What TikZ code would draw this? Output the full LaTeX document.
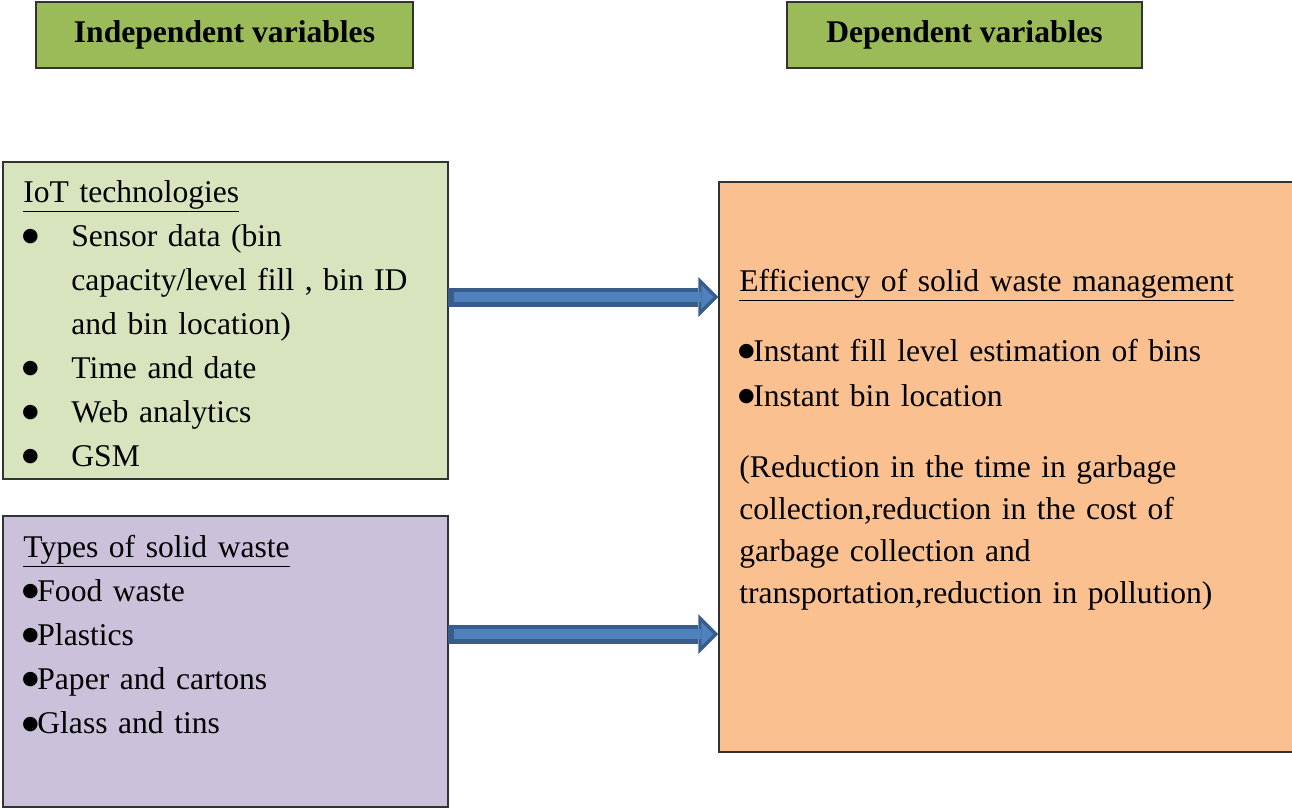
\documentclass[tikz,border=0pt]{standalone}
\usepackage{fontspec}
\setmainfont{Liberation Serif}
\newfontfamily\symfont{DejaVu Sans}
\usetikzlibrary{arrows.meta,positioning}

\definecolor{headgreen}{HTML}{9BBB59}
\definecolor{iotgreen}{HTML}{D7E4BD}
\definecolor{wastepurple}{HTML}{CCC1DA}
\definecolor{effOrange}{HTML}{FAC090}
\definecolor{arrowfill}{HTML}{4F81BD}
\definecolor{arrowline}{HTML}{385D8A}

\newcommand{\dotbullet}{\makebox[7pt][c]{\raisebox{2.4pt}{\symfont\fontsize{9.5}{10}\selectfont ●}}}
\newcommand{\iotbullet}{\makebox[24pt][l]{\dotbullet}}
\newcommand{\iotindent}{\hspace*{24pt}}

\begin{document}
\begin{tikzpicture}[x=0.5pt, y=-0.5pt,
  every node/.style={font=\fontsize{15.8}{22}\selectfont},
  headbox/.style={draw=black!80, line width=0.75pt, fill=headgreen, minimum height=33pt, font=\bfseries\fontsize{15.8}{19}\selectfont},
  panel/.style={draw=black!80, line width=0.75pt},
  txt/.style={anchor=base west, inner sep=0pt, align=left, text width=#1},
  txt/.default=210pt,
  fatarrow/.style={line width=9.5pt, draw=arrowline, -{Triangle[length=10pt,width=20pt,line width=0pt]},
    shorten <=-0.5pt,
    postaction={draw=arrowfill, line width=5pt, -{Triangle[length=6pt,width=12pt,line width=0pt]}, shorten >=2.5pt, shorten <=2.5pt}}]
  \useasboundingbox (0,0) rectangle (1292,809);

  % header boxes
  \node[headbox, minimum width=188.5pt] (indep) at (224.5,35) {Independent variables};
  \node[headbox, minimum width=177.5pt] (dep) at (964.5,35) {Dependent variables};

  % panels
  \node[panel, fill=iotgreen, minimum width=222.5pt, minimum height=158.5pt] (iot) at (225.5,320.5) {};
  \node[panel, fill=wastepurple, minimum width=222.5pt, minimum height=145.5pt] (waste) at (225.5,661.5) {};
  \node[panel, fill=effOrange, minimum width=300pt, minimum height=285pt] (eff) at (1019,467) {};

  % panel texts
  \node[txt] (iottxt) at (23,202) {\underline{IoT technologies}\\
    \iotbullet Sensor data (bin\\
    \iotindent capacity/level fill , bin ID\\
    \iotindent and bin location)\\
    \iotbullet Time and date\\
    \iotbullet Web analytics\\
    \iotbullet GSM};
  \node[txt, font=\fontsize{15.8}{22.1}\selectfont] (wastetxt) at (23,557) {\underline{Types of solid waste}\\
    \dotbullet Food waste\\
    \dotbullet Plastics\\
    \dotbullet Paper and cartons\\
    \dotbullet Glass and tins};
  \node[txt=270pt] (efftitle) at (739,291) {\underline{Efficiency of solid waste management}};
  \node[txt=270pt, font=\fontsize{15.8}{22.5}\selectfont] (effitems) at (739,361) {\dotbullet Instant fill level estimation of bins\\
    \dotbullet Instant bin location};
  \node[txt=270pt, font=\fontsize{15.8}{21}\selectfont] (effnote) at (739,477) {(Reduction in the time in garbage\\
    collection,reduction in the cost of\\
    garbage collection and\\
    transportation,reduction in pollution)};

  % connectors
  \coordinate (lvl1) at (0,297);
  \coordinate (lvl2) at (0,634);
  \draw[fatarrow] (iot.east |- lvl1) -- (eff.west |- lvl1);
  \draw[fatarrow] (waste.east |- lvl2) -- (eff.west |- lvl2);
\end{tikzpicture}
\end{document}
